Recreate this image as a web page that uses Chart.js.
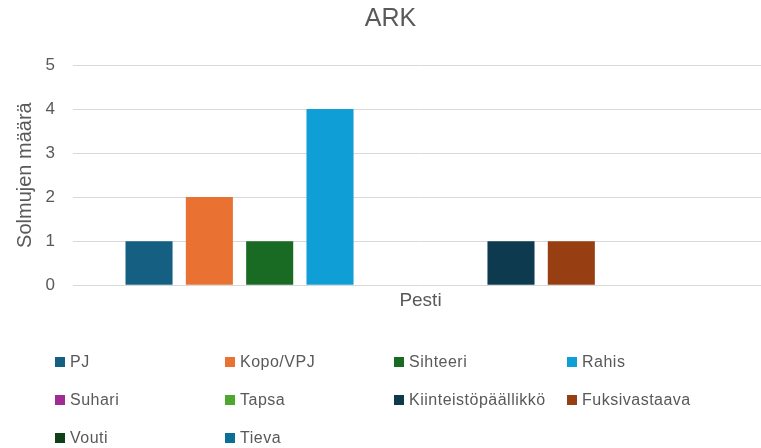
<!DOCTYPE html>
<html>
<head>
<meta charset="utf-8">
<script src="https://cdn.jsdelivr.net/npm/chart.js@4"></script>
<style>
  html, body { margin: 0; padding: 0; background: #fff; overflow: hidden; }
  #wrap { width: 761px; height: 448px; overflow: hidden; }
</style>
</head>
<body>
<div id="wrap"><canvas id="arkChart" width="769" height="448"></canvas></div>
<script>
// data
var categories = ['Pesti'];
var roles = ['PJ', 'Kopo/VPJ', 'Sihteeri', 'Rahis', 'Suhari', 'Tapsa', 'Kiinteistöpäällikkö', 'Fuksivastaava', 'Vouti', 'Tieva'];
var counts = [1, 2, 1, 4, 0, 0, 1, 1, 0, 0];
var roleColors = ['#156082', '#E97132', '#196B24', '#0F9ED5', '#A02B93', '#4EA72E', '#0D3A4F', '#973F12', '#0F4018', '#0B6F96'];
var yTicks = [0, 1, 2, 3, 4, 5];

var textColor = '#595959';
var fontFam = "'Liberation Sans', Arial, sans-serif";

var datasets = roles.map(function (r, i) {
  return {
    label: r,
    data: [counts[i]],
    backgroundColor: roleColors[i],
    borderWidth: 0,
    categoryPercentage: 0.868,
    barPercentage: 0.78
  };
});

// legend drawn as a 4-column grid under the plot
var gridLegend = {
  id: 'gridLegend',
  afterDraw: function (chart) {
    var c = chart.ctx;
    var cols = [55, 225, 394, 567];
    var rows = [362, 400, 438];
    c.save();
    c.font = '16px ' + fontFam;
    c.letterSpacing = '0.5px';
    c.textBaseline = 'middle';
    chart.data.datasets.forEach(function (ds, i) {
      var x = cols[i % 4];
      var y = rows[Math.floor(i / 4)];
      c.fillStyle = ds.backgroundColor;
      c.fillRect(x, y - 5, 10, 10);
      c.fillStyle = textColor;
      c.fillText(ds.label, x + 15, y + 1);
    });
    c.restore();
  }
};

var ctx = document.getElementById('arkChart').getContext('2d');
var arkChart = new Chart(ctx, {
  type: 'bar',
  data: {
    labels: categories,
    datasets: datasets
  },
  plugins: [gridLegend],
  options: {
    responsive: false,
    animation: false,
    layout: { padding: { top: 0, right: 1, bottom: 132, left: 13 } },
    plugins: {
      legend: { display: false },
      tooltip: { enabled: false },
      title: {
        display: true,
        text: 'ARK',
        color: textColor,
        font: { family: fontFam, size: 25, weight: 'normal' },
        padding: { top: 4, bottom: 31 }
      }
    },
    scales: {
      x: {
        grid: { display: false, drawTicks: false, tickLength: 0 },
        border: { display: false },
        ticks: {
          color: textColor,
          font: { family: fontFam, size: 19 },
          padding: 4
        }
      },
      y: {
        min: 0,
        max: 5,
        afterBuildTicks: function (axis) {
          axis.ticks = yTicks.map(function (v) { return { value: v }; });
        },
        afterFit: function (axis) { axis.width = 60; },
        grid: { color: '#d9d9d9', drawTicks: false },
        border: { display: false },
        ticks: {
          color: textColor,
          font: { family: fontFam, size: 17 },
          padding: 18
        },
        title: {
          display: true,
          text: 'Solmujen määrä',
          color: textColor,
          font: { family: fontFam, size: 20 },
          padding: 0
        }
      }
    }
  }
});
</script>
</body>
</html>
